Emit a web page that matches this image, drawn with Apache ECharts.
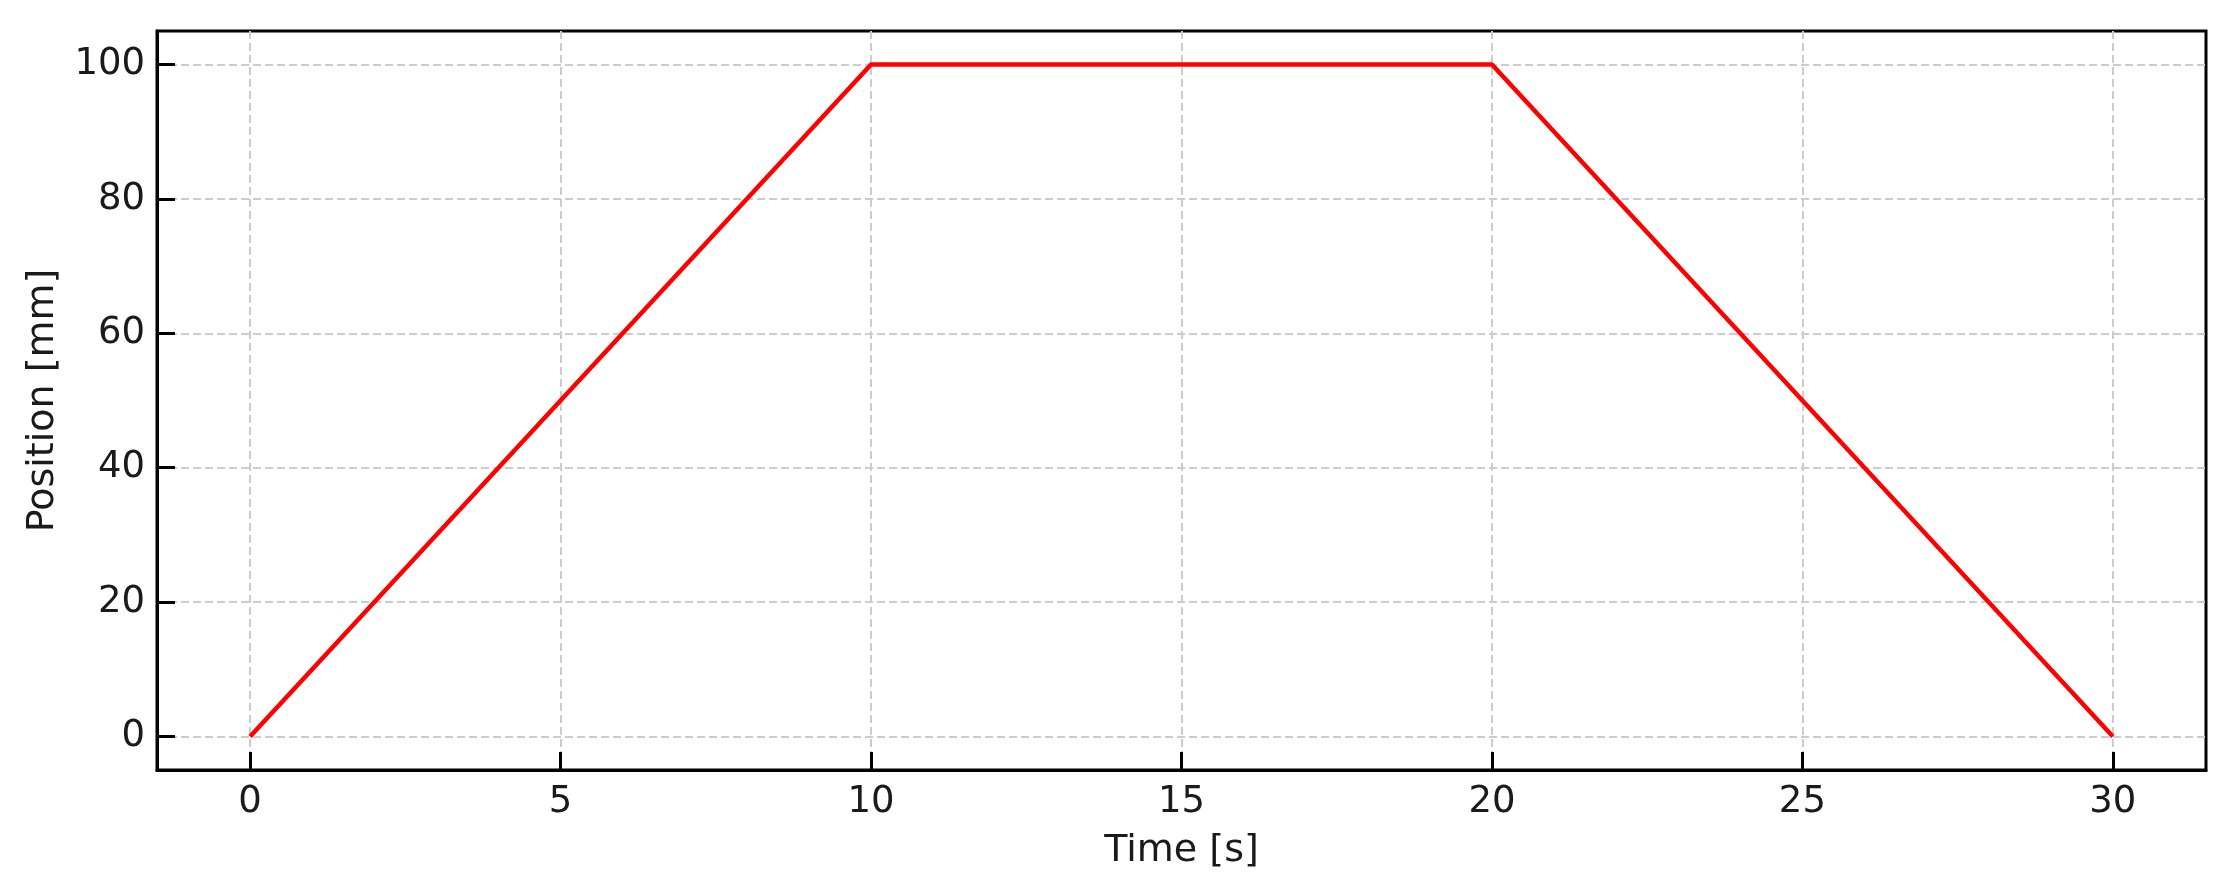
<!DOCTYPE html>
<html>
<head>
<meta charset="utf-8">
<title>Position over time</title>
<script src="https://cdn.jsdelivr.net/npm/echarts@6/dist/echarts.min.js"></script>
<style>
  html, body { margin: 0; padding: 0; background: #fff; }
  #chart { width: 2229px; height: 887px; }
</style>
</head>
<body>
<div id="chart"></div>
<script>
// trapezoid move profile
const timeValues = [0, 10, 20, 30]
const positionValues = [0, 100, 100, 0]

const points = timeValues.map((t, i) => [t, positionValues[i]])

const font = 'DejaVu Sans'
// ? no grid line on the frame itself
const gridLine = {
  show: true, showMinLine: false, showMaxLine: false,
  lineStyle: { color: '#cccccc', width: 2, type: [8, 4] }
}
const tick = { show: true, inside: true, length: 18, lineStyle: { color: '#000', width: 3 } }

let myChart = echarts.init(document.getElementById('chart'), null, { renderer: 'canvas' })

myChart.setOption({
  animation: false,
  grid: {
    left: 157,
    right: 23,
    top: 31,
    bottom: 117,
    show: true,
    borderColor: '#000',
    borderWidth: 3
  },
  xAxis: {
    type: 'value',
    min: -1.5,
    max: 31.5,
    splitNumber: 6,
    name: 'Time [s]',
    nameLocation: 'middle',
    nameGap: 62,
    nameTextStyle: { fontFamily: font, fontSize: 38, color: '#1a1a1a' },
    axisLine: { show: true, onZero: false, lineStyle: { color: '#000', width: 3 } },
    axisTick: tick,
    axisLabel: {
      fontFamily: font, fontSize: 37, color: '#1a1a1a', margin: 14,
      showMinLabel: false, showMaxLabel: false
    },
    splitLine: gridLine
  },
  yAxis: {
    type: 'value',
    min: -5,
    max: 105,
    splitNumber: 5,
    name: 'Position [mm]',
    nameLocation: 'middle',
    nameGap: 95,
    nameTextStyle: { fontFamily: font, fontSize: 38, color: '#1a1a1a' },
    axisLine: { show: true, onZero: false, lineStyle: { color: '#000', width: 3 } },
    axisTick: tick,
    axisLabel: {
      fontFamily: font, fontSize: 37, color: '#1a1a1a', margin: 12,
      showMinLabel: false, showMaxLabel: false
    },
    splitLine: gridLine
  },
  series: [
    {
      type: 'line',
      data: points,
      showSymbol: false,
      lineStyle: { color: '#ff0000', width: 4.5 },
      z: 3
    }
  ]
})
</script>
</body>
</html>
